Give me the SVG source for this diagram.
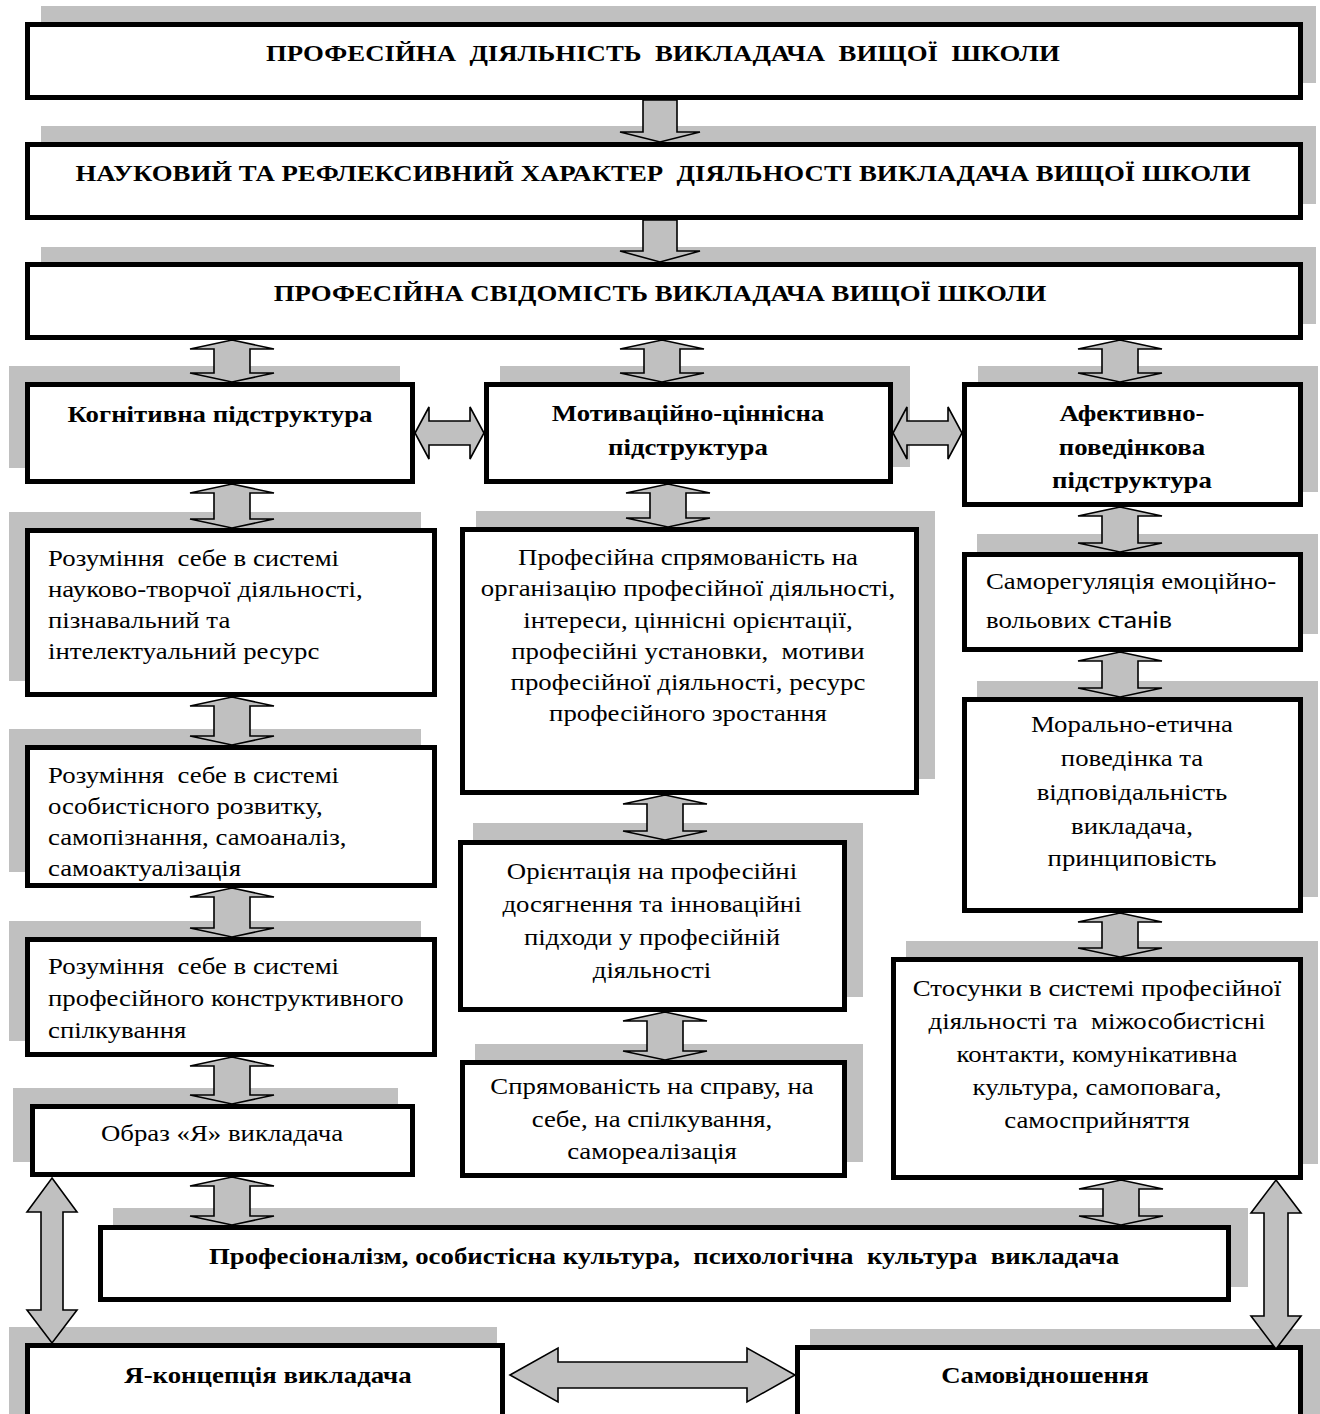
<svg xmlns="http://www.w3.org/2000/svg" width="1320" height="1414" viewBox="0 0 1320 1414">
<style>
.sh{fill:#c0c0c0}
.bx{fill:#fff;stroke:#000;stroke-width:5}
.ar{fill:#c0c0c0;stroke:#000;stroke-width:1.6;stroke-linejoin:miter}
text{font-family:"Liberation Serif","Times New Roman",serif;font-size:24px;fill:#000;white-space:pre;transform-box:fill-box;transform-origin:0 50%;transform:scaleX(1.117)}
.b{font-weight:bold}
.c{text-anchor:middle;transform-origin:50% 50%}
</style>
<rect width="1320" height="1414" fill="#fff"/>
<g id="shadows">
<rect class="sh" x="41" y="6" width="1275" height="77"/>
<rect class="sh" x="41" y="126" width="1275" height="78"/>
<rect class="sh" x="41" y="247" width="1275" height="77"/>
<rect class="sh" x="9" y="366" width="391" height="102"/>
<rect class="sh" x="500" y="366" width="410" height="101"/>
<rect class="sh" x="978" y="366" width="340" height="126"/>
<rect class="sh" x="9" y="512" width="412" height="169"/>
<rect class="sh" x="9" y="729" width="412" height="143"/>
<rect class="sh" x="9" y="921" width="412" height="120"/>
<rect class="sh" x="13" y="1088" width="385" height="74"/>
<rect class="sh" x="476" y="511" width="459" height="268"/>
<rect class="sh" x="473" y="823" width="390" height="174"/>
<rect class="sh" x="475" y="1044" width="388" height="118"/>
<rect class="sh" x="977" y="534" width="341" height="100"/>
<rect class="sh" x="977" y="681" width="341" height="216"/>
<rect class="sh" x="906" y="941" width="412" height="223"/>
<rect class="sh" x="113" y="1208" width="1135" height="79"/>
<rect class="sh" x="9" y="1327" width="488" height="100"/>
<rect class="sh" x="810" y="1329" width="510" height="100"/>
</g>
<g id="n1"><rect class="bx" x="27.5" y="24.5" width="1273" height="73"/><text class="b c" x="663" y="61">ПРОФЕСІЙНА  ДІЯЛЬНІСТЬ  ВИКЛАДАЧА  ВИЩОЇ  ШКОЛИ</text></g>
<g id="n2"><rect class="bx" x="27.5" y="144.5" width="1273" height="73"/><text class="b c" x="663" y="181">НАУКОВИЙ ТА РЕФЛЕКСИВНИЙ ХАРАКТЕР  ДІЯЛЬНОСТІ ВИКЛАДАЧА ВИЩОЇ ШКОЛИ</text></g>
<g id="n3"><rect class="bx" x="27.5" y="264.5" width="1273" height="73"/><text class="b c" x="660" y="301">ПРОФЕСІЙНА СВІДОМІСТЬ ВИКЛАДАЧА ВИЩОЇ ШКОЛИ</text></g>
<g id="kog"><rect class="bx" x="27.5" y="384.5" width="385" height="97"/><text class="b c" x="220" y="422">Когнітивна підструктура</text></g>
<g id="mot"><rect class="bx" x="486.5" y="384.5" width="404" height="97"/><text class="b c" x="688" y="421">Мотиваційно-ціннісна</text><text class="b c" x="688" y="455">підструктура</text></g>
<g id="afe"><rect class="bx" x="964.5" y="384.5" width="336" height="120"/><text class="b c" x="1132" y="421">Афективно-</text><text class="b c" x="1132" y="455">поведінкова</text><text class="b c" x="1132" y="488">підструктура</text></g>
<g id="l1"><rect class="bx" x="27.5" y="530.5" width="407" height="164"/><text x="48" y="566">Розуміння  себе в системі</text><text x="48" y="597">науково-творчої діяльності,</text><text x="48" y="628">пізнавальний та</text><text x="48" y="659">інтелектуальний ресурс</text></g>
<g id="l2"><rect class="bx" x="27.5" y="747.5" width="407" height="138"/><text x="48" y="783">Розуміння  себе в системі</text><text x="48" y="814">особистісного розвитку,</text><text x="48" y="845">самопізнання, самоаналіз,</text><text x="48" y="876">самоактуалізація</text></g>
<g id="l3"><rect class="bx" x="27.5" y="939.5" width="407" height="115"/><text x="48" y="974">Розуміння  себе в системі</text><text x="48" y="1006">професійного конструктивного</text><text x="48" y="1038">спілкування</text></g>
<g id="l4"><rect class="bx" x="32.5" y="1106.5" width="380" height="68"/><text class="c" x="222" y="1141">Образ «Я» викладача</text></g>
<g id="m1"><rect class="bx" x="462.5" y="529.5" width="454" height="263"/><text class="c" x="688" y="565">Професійна спрямованість на</text><text class="c" x="688" y="596">організацію професійної діяльності,</text><text class="c" x="688" y="628">інтереси, ціннісні орієнтації,</text><text class="c" x="688" y="659">професійні установки,  мотиви</text><text class="c" x="688" y="690">професійної діяльності, ресурс</text><text class="c" x="688" y="721">професійного зростання</text></g>
<g id="m2"><rect class="bx" x="460.5" y="842.5" width="384" height="167"/><text class="c" x="652" y="879">Орієнтація на професійні</text><text class="c" x="652" y="912">досягнення та інноваційні</text><text class="c" x="652" y="945">підходи у професійній</text><text class="c" x="652" y="978">діяльності</text></g>
<g id="m3"><rect class="bx" x="462.5" y="1062.5" width="382" height="113"/><text class="c" x="652" y="1094">Спрямованість на справу, на</text><text class="c" x="652" y="1127">себе, на спілкування,</text><text class="c" x="652" y="1159">самореалізація</text></g>
<g id="r1"><rect class="bx" x="964.5" y="554.5" width="336" height="95"/><text x="986" y="589">Саморегуляція емоційно-</text><text x="986" y="628">вольових <tspan style="font-family:Lato,'Open Sans',sans-serif">станів</tspan></text></g>
<g id="r2"><rect class="bx" x="964.5" y="699.5" width="336" height="211"/><text class="c" x="1132" y="732">Морально-етична</text><text class="c" x="1132" y="766">поведінка та</text><text class="c" x="1132" y="800">відповідальність</text><text class="c" x="1132" y="834">викладача,</text><text class="c" x="1132" y="866">принциповість</text></g>
<g id="r3"><rect class="bx" x="893.5" y="959.5" width="407" height="218"/><text class="c" x="1097" y="996">Стосунки в системі професійної</text><text class="c" x="1097" y="1029">діяльності та  міжособистісні</text><text class="c" x="1097" y="1062">контакти, комунікативна</text><text class="c" x="1097" y="1095">культура, самоповага,</text><text class="c" x="1097" y="1128">самосприйняття</text></g>
<g id="prof"><rect class="bx" x="100.5" y="1227.5" width="1128" height="72"/><text class="b c" x="664" y="1264">Професіоналізм, особистісна культура,  психологічна  культура  викладача</text></g>
<g id="jc"><rect class="bx" x="27.5" y="1345.5" width="475" height="100"/><text class="b c" x="268" y="1383">Я-концепція викладача</text></g>
<g id="sv"><rect class="bx" x="797.5" y="1347.5" width="503" height="100"/><text class="b c" x="1045" y="1383">Самовідношення</text></g>
<g id="connectors">
<polygon class="ar" points="643,100 677,100 677,132 700,132 660,142 620,132 643,132"/>
<polygon class="ar" points="643,220 677,220 677,251 700,251 660,262 620,251 643,251"/>
<polygon class="ar" points="232,340 274,349 250,349 250,373 274,373 232,382 190,373 214,373 214,349 190,349"/>
<polygon class="ar" points="662,340 704,349 680,349 680,373 704,373 662,382 620,373 644,373 644,349 620,349"/>
<polygon class="ar" points="1120,340 1162,349 1138,349 1138,373 1162,373 1120,382 1078,373 1102,373 1102,349 1078,349"/>
<polygon class="ar" points="232,484 274,493 250,493 250,519 274,519 232,528 190,519 214,519 214,493 190,493"/>
<polygon class="ar" points="668,484 710,493 686,493 686,518 710,518 668,527 626,518 650,518 650,493 626,493"/>
<polygon class="ar" points="1120,507 1162,516 1138,516 1138,543 1162,543 1120,552 1078,543 1102,543 1102,516 1078,516"/>
<polygon class="ar" points="232,697 274,706 250,706 250,736 274,736 232,745 190,736 214,736 214,706 190,706"/>
<polygon class="ar" points="665,795 707,804 683,804 683,831 707,831 665,840 623,831 647,831 647,804 623,804"/>
<polygon class="ar" points="1120,652 1162,661 1138,661 1138,688 1162,688 1120,697 1078,688 1102,688 1102,661 1078,661"/>
<polygon class="ar" points="232,888 274,897 250,897 250,928 274,928 232,937 190,928 214,928 214,897 190,897"/>
<polygon class="ar" points="665,1012 707,1021 683,1021 683,1051 707,1051 665,1060 623,1051 647,1051 647,1021 623,1021"/>
<polygon class="ar" points="1120,913 1162,922 1138,922 1138,948 1162,948 1120,957 1078,948 1102,948 1102,922 1078,922"/>
<polygon class="ar" points="232,1057 274,1066 250,1066 250,1095 274,1095 232,1104 190,1095 214,1095 214,1066 190,1066"/>
<polygon class="ar" points="232,1177 274,1186 250,1186 250,1216 274,1216 232,1225 190,1216 214,1216 214,1186 190,1186"/>
<polygon class="ar" points="1121,1180 1163,1189 1139,1189 1139,1216 1163,1216 1121,1225 1079,1216 1103,1216 1103,1189 1079,1189"/>
<polygon class="ar" points="415,433 429,407 429,421 470,421 470,407 484,433 470,459 470,445 429,445 429,459"/>
<polygon class="ar" points="893,433 907,407 907,421 948,421 948,407 962,433 948,459 948,445 907,445 907,459"/>
<polygon class="ar" points="510,1375 558,1348 558,1362 747,1362 747,1348 795,1375 747,1402 747,1388 558,1388 558,1402"/>
<polygon class="ar" points="52,1178 77,1212 63,1212 63,1310 77,1310 52,1343 27,1310 41,1310 41,1212 27,1212"/>
<polygon class="ar" points="1276,1180 1301,1213 1288,1213 1288,1316 1301,1316 1276,1349 1251,1316 1264,1316 1264,1213 1251,1213"/>
</g>
</svg>
